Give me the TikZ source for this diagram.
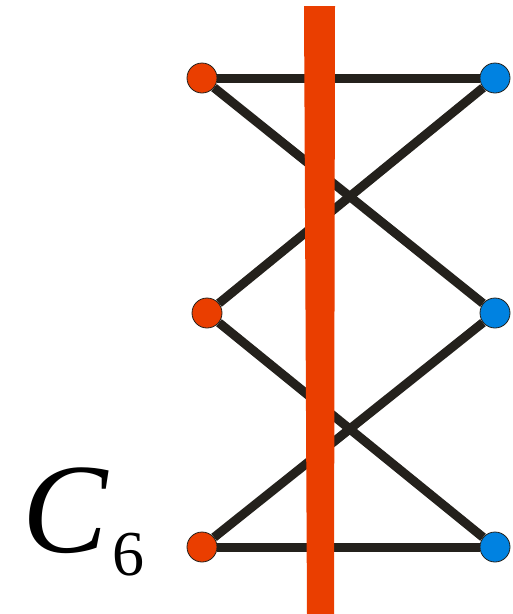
\documentclass[tikz,border=0pt]{standalone}
\usepackage{fontspec}
\setmainfont{Liberation Serif}
\usepackage{xcolor}
\definecolor{myred}{RGB}{234,62,0}
\definecolor{myblue}{RGB}{0,130,225}
\definecolor{mydark}{RGB}{36,33,28}

\begin{document}
\begin{tikzpicture}[x=1pt,y=-1pt]
\tikzset{
 vert/.style={circle, draw=mydark, line width=0.8, minimum size=30, inner sep=0},
 edge/.style={mydark, line width=9}
}
\useasboundingbox (0,0) rectangle (513,614);

 %vertices:
 \node[vert, fill=myred] (r1) at (202,78) {};
 \node[vert, fill=myred] (r2) at (207,313) {};
 \node[vert, fill=myred] (r3) at (202,547) {};
 \node[vert, fill=myblue] (b1) at (495,78) {};
 \node[vert, fill=myblue] (b2) at (495,313) {};
 \node[vert, fill=myblue] (b3) at (495,547) {};

 %edges
 \draw[edge] (r1) -- (b1);
 \draw[edge] (r1) -- (b2);
 \draw[edge] (r2) -- (b1);
 \draw[edge] (r2) -- (b3);
 \draw[edge] (r3) -- (b2);
 \draw[edge] (r3) -- (b3);

 %cut
 \fill[myred] (304,6) -- (335,6) -- (334,614) -- (307,614) -- cycle;

 \node[anchor=base west, inner sep=0, font=\fontsize{128}{128}\selectfont\itshape] (lab) at (22,552) {C};
 \node[anchor=base west, inner sep=0, font=\fontsize{64}{64}\selectfont] (sub) at (112,575) {6};
\end{tikzpicture}
\end{document}
